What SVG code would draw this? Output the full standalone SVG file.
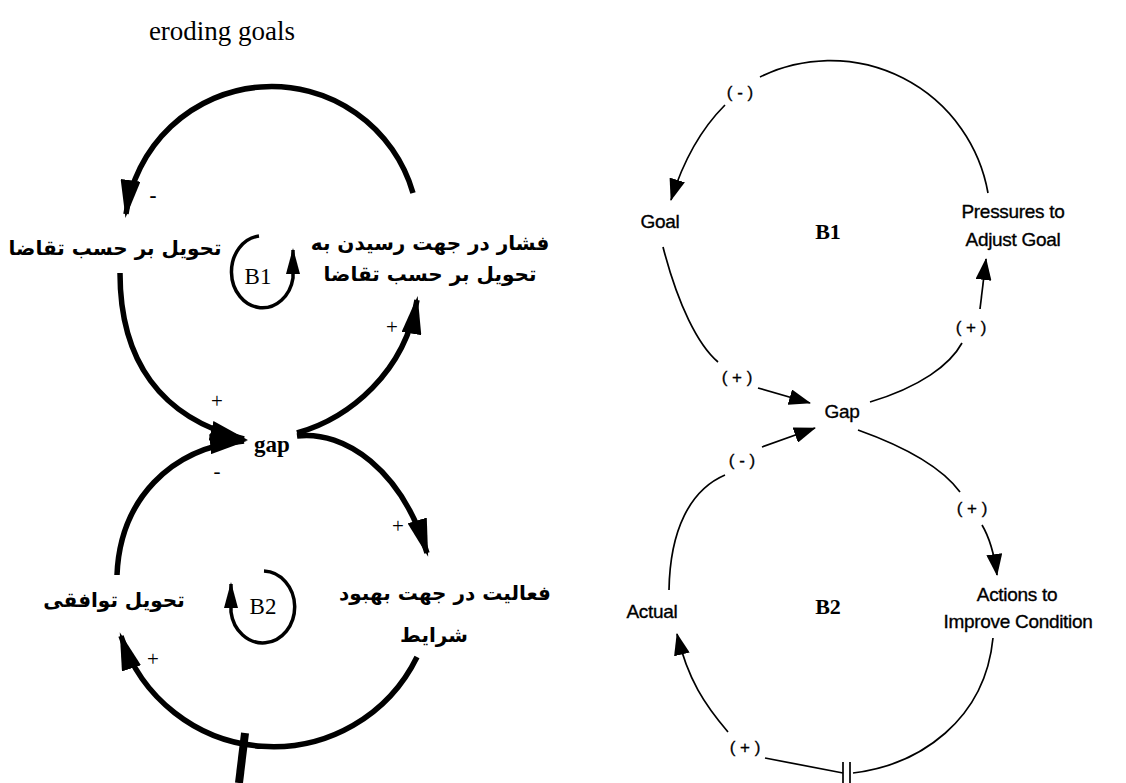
<svg xmlns="http://www.w3.org/2000/svg" width="1126" height="783" viewBox="0 0 1126 783">
<style>
.thick{fill:none;stroke:#000;stroke-width:5.5;}
.loop{fill:none;stroke:#000;stroke-width:3.5;}
.thin{fill:none;stroke:#000;stroke-width:1.7;}
.fa{font-family:"DejaVu Sans",sans-serif;font-weight:bold;font-size:20px;fill:#000;text-anchor:middle;}
.ser{font-family:"Liberation Serif","Times New Roman",serif;fill:#000;text-anchor:middle;}
.en{font-family:"Liberation Sans",Arial,sans-serif;font-size:19px;fill:#000;stroke:#000;stroke-width:0.35px;text-anchor:middle;letter-spacing:-0.3px;}
.pol{font-family:"Liberation Sans",Arial,sans-serif;font-size:17px;fill:#000;stroke:#000;stroke-width:0.3px;text-anchor:middle;}
.sgn{font-family:"Liberation Serif","Times New Roman",serif;font-size:21px;fill:#000;text-anchor:middle;}
</style>
<defs>
<marker id="ah" markerUnits="userSpaceOnUse" viewBox="0 0 38 20" refX="34" refY="10" markerWidth="38" markerHeight="20" orient="auto"><path d="M0,0 L38,10 L0,20 Z" fill="#000"/></marker>
<marker id="ahs" markerUnits="userSpaceOnUse" viewBox="0 0 26 14" refX="24" refY="7" markerWidth="26" markerHeight="14" orient="auto"><path d="M0,0 L26,7 L0,14 Z" fill="#000"/></marker>
<marker id="aht" markerUnits="userSpaceOnUse" viewBox="0 0 22 16" refX="21" refY="8" markerWidth="22" markerHeight="16" orient="auto"><path d="M0,0 L22,8 L0,16 Z" fill="#000"/></marker>
</defs>

<text class="ser" x="222" y="40" font-size="27">eroding goals</text>

<g id="connectors-left">
<path class="thick" d="M 413 193 A 147 147 0 0 0 126 214" marker-end="url(#ah)"/>
<path class="thick" d="M 120 273 C 120 360 160 418 244 439" marker-end="url(#ah)"/>
<path class="thick" d="M 297 433 C 350 418 405 372 417 300" marker-end="url(#ah)"/>
<path class="thick" d="M 297 436 C 345 430 402 470 427 553" marker-end="url(#ah)"/>
<path class="thick" d="M 417 657 A 160 160 0 0 1 121 636" marker-end="url(#ah)"/>
<path class="thick" d="M 117 575 C 120 500 170 448 244 441" marker-end="url(#ah)"/>
<path d="M 245 733 L 239 783" stroke="#000" stroke-width="8" fill="none"/>
<text class="sgn" x="153" y="202" font-weight="bold">-</text>
<text class="sgn" x="217" y="408">+</text>
<text class="sgn" x="217" y="478">-</text>
<text class="sgn" x="392" y="334">+</text>
<text class="sgn" x="398" y="533">+</text>
<text class="sgn" x="153" y="666">+</text>
</g>

<g id="loop-B1-left">
<path class="loop" d="M 259 236 A 31 36 0 1 0 293 278 L 293 250" marker-end="url(#ahs)"/>
<text class="ser" x="258" y="284" font-size="23">B1</text>
</g>
<g id="loop-B2-left">
<path class="loop" d="M 264 571 A 32 36 0 1 1 231 612 L 231 584" marker-end="url(#ahs)"/>
<text class="ser" x="263" y="614" font-size="23">B2</text>
</g>

<g id="node-delivery-demand">
<text class="fa" x="115" y="255">تحویل بر حسب تقاضا</text>
</g>
<g id="node-pressure">
<text class="fa" x="430" y="250">فشار در جهت رسیدن به</text>
<text class="fa" x="430" y="281">تحویل بر حسب تقاضا</text>
</g>
<g id="node-gap">
<text class="ser" x="272" y="452" font-size="23" font-weight="bold">gap</text>
</g>
<g id="node-activity">
<text class="fa" x="445" y="600">فعالیت در جهت بهبود</text>
<text class="fa" x="434" y="642">شرایط</text>
</g>
<g id="node-agreed">
<text class="fa" x="114" y="607">تحویل توافقی</text>
</g>

<g id="connectors-right">
<path class="thin" d="M 988 193 A 160 160 0 0 0 760 77"/>
<path class="thin" d="M 725 105 C 705 125 685 155 671 200" marker-end="url(#aht)"/>
<path class="thin" d="M 663 247 C 678 305 698 345 718 362"/>
<path class="thin" d="M 758 388 L 810 403" marker-end="url(#aht)"/>
<path class="thin" d="M 870 402 C 920 387 950 365 962 343"/>
<path class="thin" d="M 980 309 L 986 259" marker-end="url(#aht)"/>
<path class="thin" d="M 858 430 C 900 445 940 465 960 492"/>
<path class="thin" d="M 982 525 C 988 535 994 552 997 575" marker-end="url(#aht)"/>
<path class="thin" d="M 993 638 C 985 720 920 765 853 773"/>
<path class="thin" d="M 843 773 L 765 758"/>
<path class="thin" d="M 843 762 L 843 783 M 850 762 L 850 783"/>
<path class="thin" d="M 728 732 C 705 705 688 680 677 634" marker-end="url(#aht)"/>
<path class="thin" d="M 669 590 C 670 530 690 490 725 475"/>
<path class="thin" d="M 762 447 L 815 428" marker-end="url(#aht)"/>
<text class="pol" x="740" y="98">( - )</text>
<text class="pol" x="737" y="383">( + )</text>
<text class="pol" x="971" y="333">( + )</text>
<text class="pol" x="742" y="466">( - )</text>
<text class="pol" x="972" y="514">( + )</text>
<text class="pol" x="745" y="753">( + )</text>
</g>

<g id="node-goal"><text class="en" x="660" y="228">Goal</text></g>
<g id="node-pressures"><text class="en" x="1013" y="218">Pressures to</text><text class="en" x="1013" y="246">Adjust Goal</text></g>
<g id="node-gap-r"><text class="en" x="842" y="418">Gap</text></g>
<g id="node-actions"><text class="en" x="1017" y="601">Actions to</text><text class="en" x="1018" y="628">Improve Condition</text></g>
<g id="node-actual"><text class="en" x="652" y="618">Actual</text></g>
<g id="label-B1-right"><text class="ser" x="828" y="239" font-size="22" font-weight="bold">B1</text></g>
<g id="label-B2-right"><text class="ser" x="828" y="614" font-size="22" font-weight="bold">B2</text></g>
</svg>
